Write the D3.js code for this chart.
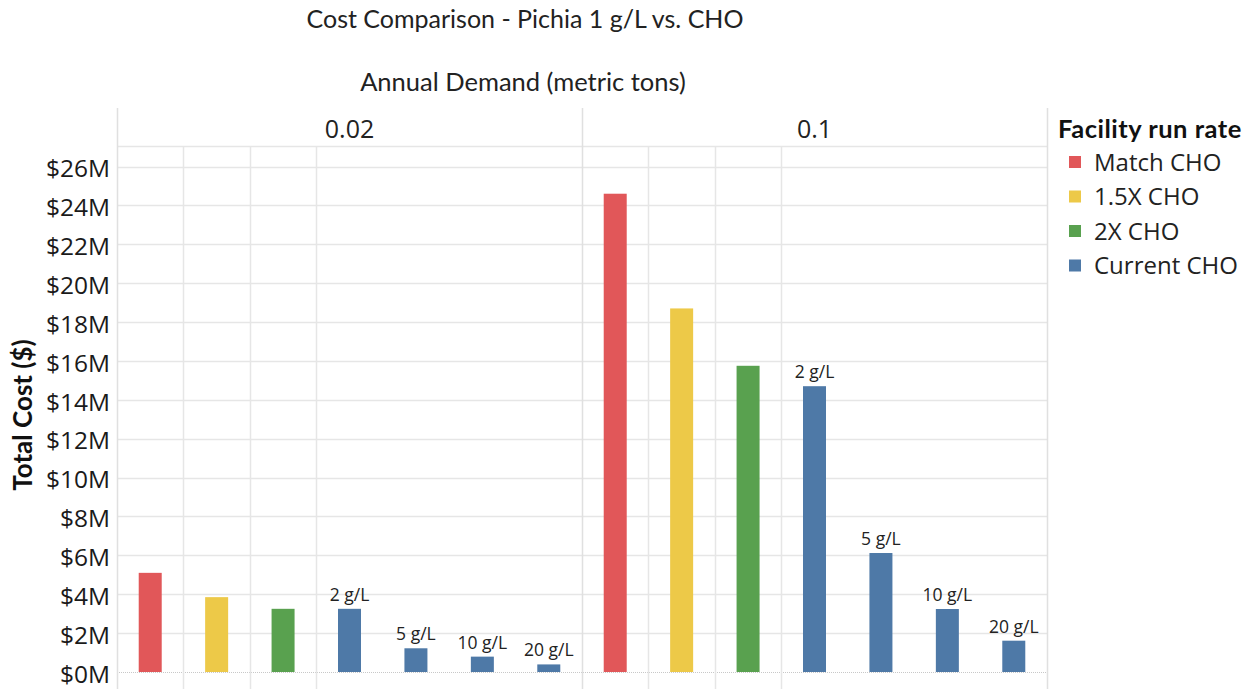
<!DOCTYPE html>
<html>
<head>
<meta charset="utf-8">
<script src="https://cdn.jsdelivr.net/npm/d3@7"></script>
<style>
  html, body { margin: 0; padding: 0; background: #fff; }
  svg { display: block; }
</style>
</head>
<body>
<svg id="chart" width="1255" height="689"></svg>
<script>
// Annual demand panels (metric tons)
const demands = ["0.02", "0.1"];
// Facility run rate series
const runRates = ["Match CHO", "1.5X CHO", "2X CHO", "Current CHO"];
const runColors = ["#e15759", "#edc948", "#59a14f", "#4e79a7"];
// Total cost in $M, one value per demand panel
const matchCHO = [5.1, 24.6];
const x15CHO = [3.85, 18.7];
const x2CHO = [3.25, 15.75];
// Current CHO at several titers, per demand panel
const titers = ["2 g/L", "5 g/L", "10 g/L", "20 g/L"];
const currentCHO = [
  [3.25, 1.22, 0.79, 0.39],
  [14.7, 6.12, 3.24, 1.61]
];
// Y axis ticks ($M)
const yTicks = [0, 2, 4, 6, 8, 10, 12, 14, 16, 18, 20, 22, 24, 26];

const plotLeft = 117, plotRight = 1047;
const headerTop = 108, headerBottom = 146, plotBottom = 689;
const svg = d3.select("#chart");
const sansFont = "'Open Sans', 'Noto Sans', sans-serif";
const narrowFont = "Lato, 'Noto Sans', sans-serif";

// Build one record per bar
const bars = [];
demands.forEach((dem, p) => {
  bars.push({ dem, slot: "Match CHO", rate: 0, value: matchCHO[p] });
  bars.push({ dem, slot: "1.5X CHO", rate: 1, value: x15CHO[p] });
  bars.push({ dem, slot: "2X CHO", rate: 2, value: x2CHO[p] });
  titers.forEach((t, i) => {
    bars.push({ dem, slot: "Current " + t, rate: 3, value: currentCHO[p][i], label: t });
  });
});
const slots = ["Match CHO", "1.5X CHO", "2X CHO"].concat(titers.map(t => "Current " + t));

const panelX = d3.scaleBand().domain(demands).range([plotLeft, plotRight]);
const slotX = d3.scaleBand().domain(slots).range([0, panelX.bandwidth()]);
const y = d3.scaleLinear().domain([0, 26]).range([672, 166.5]);
const barW = 23;
const gridColor = "#e6e6e6";

// Titles
svg.append("text").attr("x", 525).attr("y", 28).attr("text-anchor", "middle")
  .attr("font-family", narrowFont).attr("font-size", 25).attr("fill", "#222")
  .text("Cost Comparison - Pichia 1 g/L vs. CHO");
svg.append("text").attr("x", 523).attr("y", 91).attr("text-anchor", "middle")
  .attr("font-family", narrowFont).attr("font-size", 25.5).attr("fill", "#222")
  .text("Annual Demand (metric tons)");

// Horizontal gridlines
const grid = svg.append("g");
grid.selectAll("line.h").data(yTicks.filter(d => d > 0)).join("line")
  .attr("x1", plotLeft).attr("x2", plotRight)
  .attr("y1", d => Math.round(y(d)) + 0.5).attr("y2", d => Math.round(y(d)) + 0.5)
  .attr("stroke", gridColor).attr("stroke-width", 1.5);
// Header separator
grid.append("line").attr("x1", plotLeft).attr("x2", plotRight)
  .attr("y1", headerBottom + 0.5).attr("y2", headerBottom + 0.5)
  .attr("stroke", gridColor).attr("stroke-width", 1.5);
// Zero line (dotted)
grid.append("line").attr("x1", plotLeft).attr("x2", plotRight)
  .attr("y1", Math.round(y(0)) + 0.5).attr("y2", Math.round(y(0)) + 0.5)
  .attr("stroke", "#c8c8c8").attr("stroke-width", 1).attr("stroke-dasharray", "1,1");

// Vertical gridlines inside panels (between run-rate groups)
demands.forEach(dem => {
  const x0 = panelX(dem);
  ["1.5X CHO", "2X CHO", "Current 2 g/L"].forEach(s => {
    const xx = Math.round(x0 + slotX(s)) + 0.5;
    grid.append("line").attr("x1", xx).attr("x2", xx)
      .attr("y1", headerBottom).attr("y2", plotBottom)
      .attr("stroke", gridColor).attr("stroke-width", 1.5);
  });
});
// Panel borders
[plotLeft, panelX("0.1"), plotRight].forEach(xv => {
  const xx = Math.round(xv) + 0.5;
  grid.append("line").attr("x1", xx).attr("x2", xx)
    .attr("y1", headerTop).attr("y2", plotBottom)
    .attr("stroke", "#e0e0e0").attr("stroke-width", 1.5);
});

// Panel headers
svg.append("g").selectAll("text").data(demands).join("text")
  .attr("x", d => panelX(d) + panelX.bandwidth() / 2).attr("y", 138)
  .attr("text-anchor", "middle").attr("font-family", sansFont)
  .attr("font-size", 25).attr("fill", "#222").text(d => d);

// Bars
const barG = svg.append("g");
barG.selectAll("rect").data(bars).join("rect")
  .attr("x", d => panelX(d.dem) + slotX(d.slot) + (slotX.bandwidth() - barW) / 2)
  .attr("width", barW)
  .attr("y", d => y(d.value))
  .attr("height", d => y(0) - y(d.value))
  .attr("fill", d => runColors[d.rate]);

// Titer labels above Current CHO bars
barG.selectAll("text").data(bars.filter(d => d.label)).join("text")
  .attr("x", d => panelX(d.dem) + slotX(d.slot) + slotX.bandwidth() / 2)
  .attr("y", d => y(d.value) - 8)
  .attr("text-anchor", "middle").attr("font-family", sansFont)
  .attr("font-size", 17.5).attr("fill", "#222").text(d => d.label);

// Y axis
const yAxis = d3.axisLeft(y).tickValues(yTicks).tickSize(0).tickPadding(0)
  .tickFormat(d => "$" + d + "M");
const yg = svg.append("g").attr("transform", `translate(110,0)`).call(yAxis);
yg.select(".domain").remove();
yg.selectAll("text").attr("font-family", sansFont).attr("font-size", 24.5)
  .attr("fill", "#1a1a1a").attr("dy", "0.42em");

svg.append("text")
  .attr("transform", "translate(32,415) rotate(-90)")
  .attr("text-anchor", "middle").attr("font-family", narrowFont)
  .attr("font-weight", "bold").attr("font-size", 26).attr("fill", "#111")
  .text("Total Cost ($)");

// Legend
const lg = svg.append("g");
lg.append("text").attr("x", 1058).attr("y", 138)
  .attr("font-family", narrowFont).attr("font-weight", "bold")
  .attr("font-size", 25.5).attr("letter-spacing", 0.5).attr("fill", "#111")
  .text("Facility run rate");
const items = lg.selectAll("g.item").data(runRates).join("g")
  .attr("transform", (d, i) => `translate(1069,${162 + i * 34.5})`);
items.append("rect").attr("x", 0).attr("y", -6).attr("width", 12).attr("height", 12)
  .attr("fill", (d, i) => runColors[i]);
items.append("text").attr("x", 25).attr("y", 8.5)
  .attr("font-family", sansFont).attr("font-size", 24).attr("fill", "#222")
  .text(d => d);
</script>
</body>
</html>
